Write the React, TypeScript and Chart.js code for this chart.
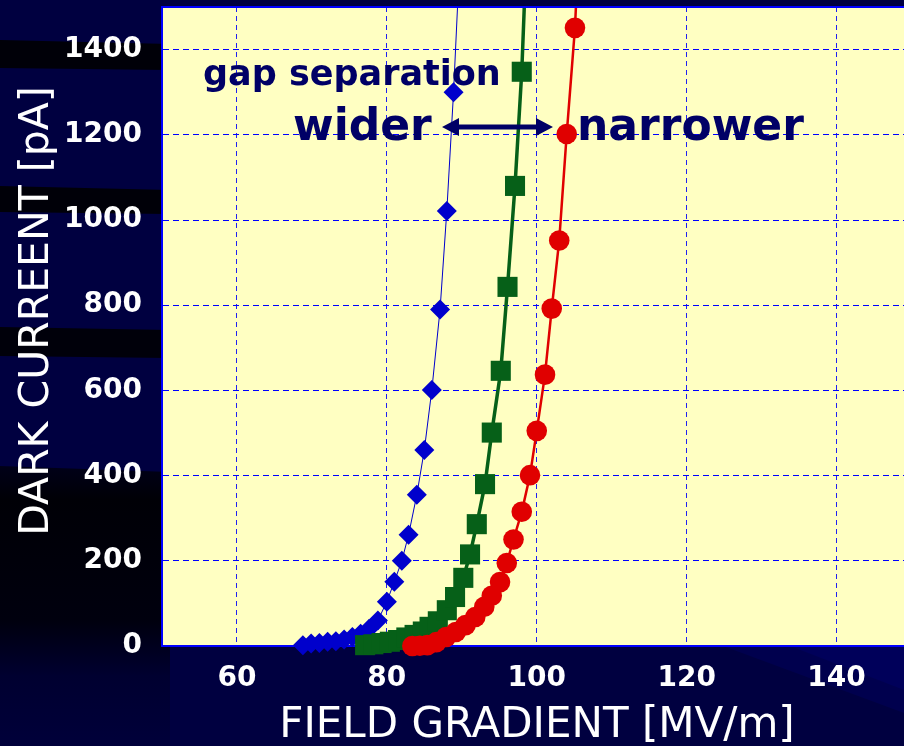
import React, { useEffect, useRef } from "react";
import { Chart, registerables } from "chart.js";

Chart.register(...registerables);

// ---- data ----
const blueX = [68.8, 69.9, 71.0, 72.1, 73.2, 74.3, 75.4, 76.5, 77.6, 78.8, 80.0, 81.0, 82.0, 82.9, 84.0, 85.0, 86.0, 87.1, 88.0, 88.9, 89.8];
const blueY = [2, 6, 7, 10, 11, 15, 21, 29, 40, 60, 104, 151, 200, 261, 355, 460, 601, 790, 1021, 1300, 1640];

const greenX = [77.1, 78.2, 79.3, 80.4, 81.5, 82.6, 83.7, 84.8, 85.7, 86.8, 88.0, 89.1, 90.2, 91.1, 92.0, 93.1, 94.0, 95.2, 96.1, 97.1, 98.0, 99.0];
const greenY = [2, 4, 7, 10, 14, 20, 26, 34, 45, 58, 84, 115, 160, 215, 286, 380, 501, 646, 843, 1080, 1348, 1800];

const redX = [83.4, 84.4, 85.4, 86.6, 87.9, 89.2, 90.5, 91.8, 93.0, 94.0, 95.1, 96.0, 96.9, 98.0, 99.1, 100.0, 101.1, 102.0, 103.0, 104.0, 105.1, 106.0];
const redY = [0, 0.5, 2, 9, 21, 33, 49, 68, 92, 118, 150, 195, 250, 315, 401, 505, 637, 792, 952, 1202, 1451, 1800];

const xTicks = [60, 80, 100, 120, 140];
const yTicks = [0, 200, 400, 600, 800, 1000, 1200, 1400];

const xTitle = "FIELD GRADIENT [MV/m]";
const yTitle = "DARK CURREENT [pA]";
const noteTop = "gap separation";
const noteLeft = "wider";
const noteRight = "narrower";

const pts = (xs: number[], ys: number[]) => xs.map((x, i) => ({ x, y: ys[i] }));

const backgroundPlugin = {
  id: "slideBackground",
  beforeDraw(chart: any) {
    const { ctx, width: W, height: H, chartArea: a } = chart;
    ctx.save();
    ctx.fillStyle = "#000040";
    ctx.fillRect(0, 0, W, H);
    const poly = (p: number[][], color: any) => {
      ctx.beginPath();
      ctx.moveTo(p[0][0], p[0][1]);
      for (let i = 1; i < p.length; i++) ctx.lineTo(p[i][0], p[i][1]);
      ctx.closePath();
      ctx.fillStyle = color;
      ctx.fill();
    };
    poly([[0, 40], [170, 44], [170, 70], [0, 68]], "#000008");
    poly([[0, 186], [170, 190], [170, 214], [0, 212]], "#000008");
    poly([[0, 327], [170, 330], [170, 358], [0, 356]], "#00000a");
    const g = ctx.createLinearGradient(0, 466, 0, 746);
    g.addColorStop(0, "#000018");
    g.addColorStop(0.12, "#000006");
    g.addColorStop(0.55, "#00000e");
    g.addColorStop(0.75, "#000030");
    g.addColorStop(1, "#00003a");
    poly([[0, 466], [170, 472], [170, 746], [0, 746]], g);
    poly([[723, 646], [904, 646], [904, 713]], "#00004e");
    poly([[790, 646], [904, 646], [904, 690]], "#00005a");
    // plot area
    ctx.fillStyle = "#FFFFC2";
    ctx.fillRect(a.left, a.top, a.right - a.left, a.bottom - a.top);
    ctx.restore();
  },
  afterDraw(chart: any) {
    const { ctx, chartArea: a } = chart;
    ctx.save();
    // top frame line
    ctx.strokeStyle = "#0000FF";
    ctx.lineWidth = 2;
    ctx.beginPath();
    ctx.moveTo(a.left, a.top);
    ctx.lineTo(a.right, a.top);
    ctx.stroke();

    // axis titles
    ctx.fillStyle = "#FFFFFF";
    ctx.textAlign = "center";
    ctx.textBaseline = "alphabetic";
    ctx.font = "42px 'DejaVu Sans'";
    ctx.fillText(xTitle, 537, 737);
    ctx.save();
    ctx.font = "41px 'DejaVu Sans'";
    ctx.translate(48, 311);
    ctx.rotate(-Math.PI / 2);
    ctx.fillText(yTitle, 0, 0);
    ctx.restore();

    // annotations
    ctx.fillStyle = "#000066";
    ctx.textAlign = "left";
    ctx.font = "bold 35px 'DejaVu Sans'";
    ctx.fillText(noteTop, 203, 85);
    ctx.font = "bold 44px 'DejaVu Sans'";
    ctx.fillText(noteLeft, 293, 140);
    ctx.fillText(noteRight, 577, 140);

    // double-headed arrow
    const y = 127;
    const x1 = 442, x2 = 553;
    ctx.strokeStyle = "#000066";
    ctx.lineWidth = 5;
    ctx.beginPath();
    ctx.moveTo(x1 + 12, y);
    ctx.lineTo(x2 - 12, y);
    ctx.stroke();
    ctx.beginPath();
    ctx.moveTo(x1, y);
    ctx.lineTo(x1 + 17, y - 9);
    ctx.lineTo(x1 + 17, y + 9);
    ctx.closePath();
    ctx.moveTo(x2, y);
    ctx.lineTo(x2 - 17, y - 9);
    ctx.lineTo(x2 - 17, y + 9);
    ctx.closePath();
    ctx.fill();
    ctx.restore();
  },
};

export default function App() {
  const ref = useRef<HTMLCanvasElement | null>(null);

  useEffect(() => {
    document.body.style.margin = "0";
    document.body.style.overflow = "hidden";
    const canvas = ref.current;
    if (!canvas) return;
    const clip = { left: false, right: false, top: 0, bottom: false } as any;
    const tickFont = { family: "'DejaVu Sans'", weight: "bold", size: 28 };
    const chart = new Chart(canvas, {
      type: "scatter",
      data: {
        datasets: [
          {
            label: "narrower",
            data: pts(redX, redY),
            showLine: true,
            borderColor: "#E00000",
            backgroundColor: "#E00000",
            borderWidth: 2.5,
            pointStyle: "circle",
            pointRadius: 10.3,
            pointBorderWidth: 0,
            clip,
          },
          {
            label: "middle",
            data: pts(greenX, greenY),
            showLine: true,
            borderColor: "#066018",
            backgroundColor: "#066018",
            borderWidth: 3.5,
            pointStyle: "rect",
            pointRadius: 14.2,
            pointBorderWidth: 0,
            clip,
          },
          {
            label: "wider",
            data: pts(blueX, blueY),
            showLine: true,
            borderColor: "#0000CC",
            backgroundColor: "#0000CC",
            borderWidth: 1,
            pointStyle: "rectRot",
            pointRadius: 10,
            pointBorderWidth: 0,
            clip,
          },
        ],
      } as any,
      options: {
        animation: false,
        responsive: false,
        maintainAspectRatio: false,
        layout: { autoPadding: false, padding: { top: 7, left: 0, right: 0, bottom: 0 } },
        plugins: { legend: { display: false }, tooltip: { enabled: false }, title: { display: false } },
        scales: {
          x: {
            type: "linear",
            min: 50,
            max: 149,
            afterBuildTicks: (s: any) => {
              s.ticks = xTicks.map((v) => ({ value: v }));
            },
            afterFit: (s: any) => {
              s.height = 100;
              s.paddingLeft = 0;
              s.paddingRight = 0;
              s.paddingTop = 0;
              s.paddingBottom = 0;
            },
            ticks: {
              color: "#FFFFFF",
              padding: 16,
              font: tickFont,
              callback: (v: any) => String(v),
            },
            grid: { color: "#2020F0", lineWidth: 1, drawTicks: false },
            border: { display: true, color: "#0000FF", width: 2, dash: [5, 4] },
          },
          y: {
            type: "linear",
            min: 0,
            max: 1500,
            afterBuildTicks: (s: any) => {
              s.ticks = yTicks.map((v) => ({ value: v }));
            },
            afterFit: (s: any) => {
              s.width = 162;
              s.paddingLeft = 0;
              s.paddingRight = 0;
              s.paddingTop = 0;
              s.paddingBottom = 0;
            },
            ticks: {
              color: "#FFFFFF",
              padding: 20,
              font: tickFont,
              callback: (v: any) => String(v),
            },
            grid: { color: "#0000FF", lineWidth: 1, drawTicks: false },
            border: { display: true, color: "#0000FF", width: 2, dash: [6, 4] },
          },
        },
      } as any,
      plugins: [backgroundPlugin],
    });
    return () => chart.destroy();
  }, []);

  return (
    <div style={{ position: "fixed", left: 0, top: 0, width: 904, height: 746, overflow: "hidden", background: "#000040" }}>
      <canvas ref={ref} width={904} height={746} style={{ display: "block", width: 904, height: 746 }} />
    </div>
  );
}
